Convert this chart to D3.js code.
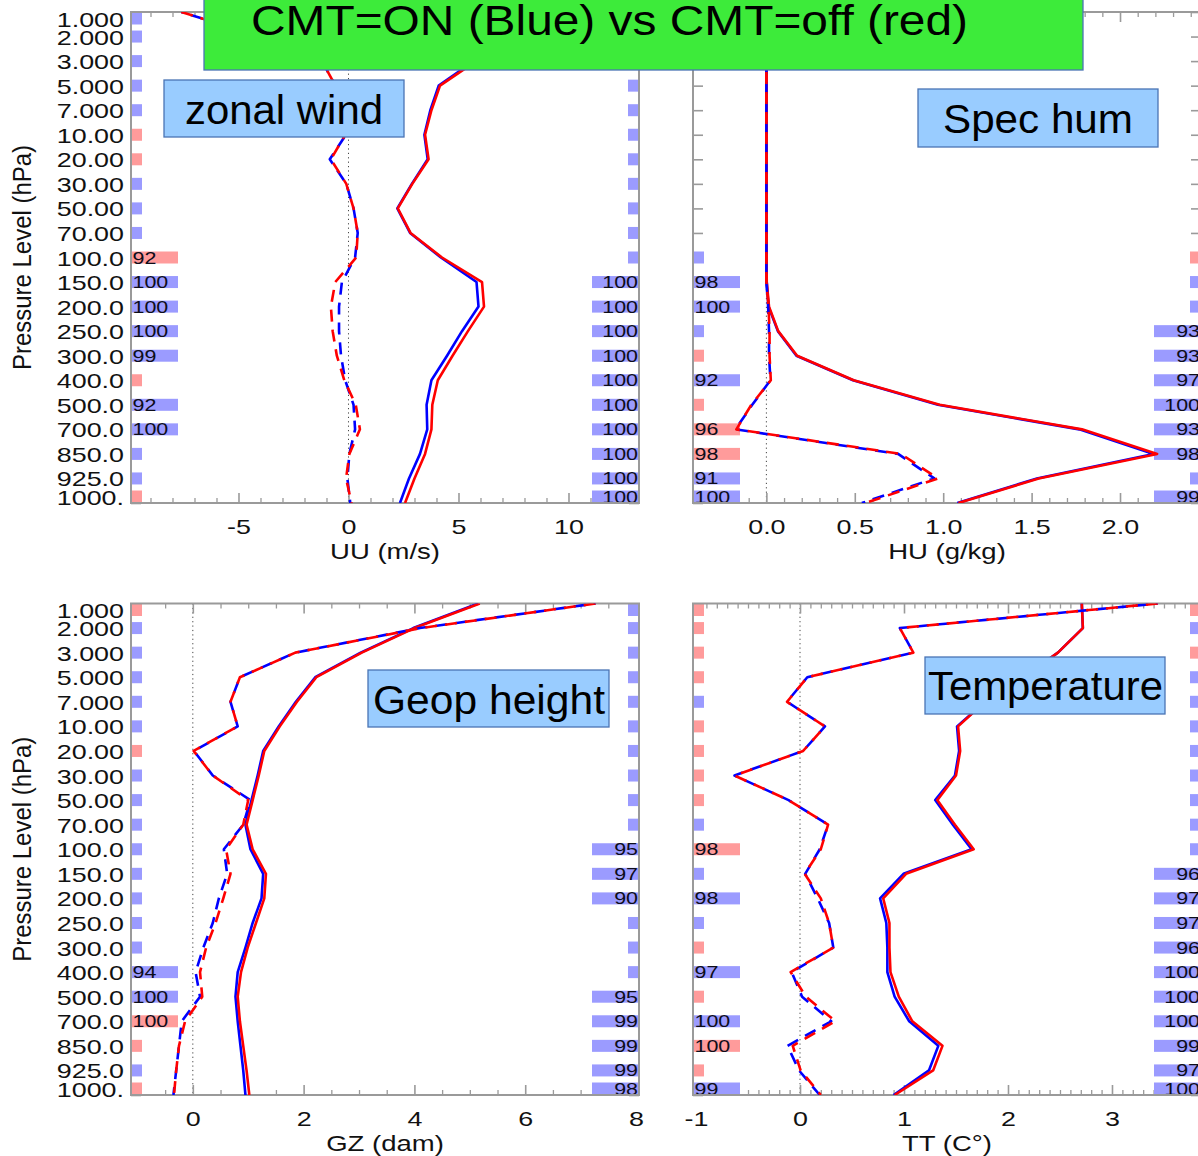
<!DOCTYPE html>
<html>
<head>
<meta charset="utf-8">
<script src="https://cdn.jsdelivr.net/npm/d3@7"></script>
<style>
  body { margin: 0; background: #ffffff; }
  svg { display: block; font-family: "Liberation Sans", Arial, sans-serif; }
</style>
</head>
<body>
<svg id="chart" width="1198" height="1156"></svg>
<script>
// ---- vertical coordinate: pressure levels (hPa) and their printed labels ----
const levels = [1, 2, 3, 5, 7, 10, 20, 30, 50, 70, 100, 150, 200, 250, 300, 400, 500, 700, 850, 925, 1000];
const levelLabels = ["1.000", "2.000", "3.000", "5.000", "7.000", "10.00", "20.00", "30.00", "50.00", "70.00",
  "100.0", "150.0", "200.0", "250.0", "300.0", "400.0", "500.0", "700.0", "850.0", "925.0", "1000."];

// ---- zonal wind UU (m/s) ----
const uuTicks = [-5, 0, 5, 10];
const uuStdOn   = [9.0, 7.4, 5.7, 4.10, 3.72, 3.45, 3.60, 2.88, 2.22, 2.80, 4.20, 5.82, 5.91, 5.16, 4.48, 3.77, 3.55, 3.58, 3.25, 2.75, 2.34];
const uuStdOff  = [9.1, 7.5, 5.8, 4.16, 3.77, 3.48, 3.64, 2.90, 2.24, 2.82, 4.25, 6.07, 6.16, 5.43, 4.73, 4.06, 3.81, 3.77, 3.48, 3.00, 2.57];
const uuBiasOn  = [-7.6, -4.0, -1.2, -0.6, -0.3, -0.12, -0.85, -0.10, 0.23, 0.42, 0.30, -0.30, -0.43, -0.43, -0.34, -0.15, 0.23, 0.30, 0.04, -0.05, 0.08];
const uuBiasOff = [-7.6, -4.0, -1.2, -0.6, -0.3, -0.15, -0.80, -0.10, 0.23, 0.42, 0.35, -0.60, -0.80, -0.72, -0.53, -0.19, 0.33, 0.52, 0.04, -0.11, 0.14];
const uuLeft  = ["B", "B", "B", "B", "B", "R", "R", "B", "B", "B", "R92", "B100", "B100", "B100", "B99", "R", "B92", "B100", "B", "B", "R"];
const uuRight = ["B", "B", "B", "B", "B", "B", "B", "B", "B", "B", "B", "B100", "B100", "B100", "B100", "B100", "B100", "B100", "B100", "B100", "B100"];

// ---- specific humidity HU (g/kg) ----
const huTicks = [0, 0.5, 1.0, 1.5, 2.0];
const huStdOn   = [0.001, 0.001, 0.001, 0.001, 0.001, 0.001, 0.001, 0.001, 0.001, 0.001, 0.001, 0.002, 0.012, 0.065, 0.170, 0.490, 0.970, 1.770, 2.190, 1.530, 1.080];
const huStdOff  = [0.001, 0.001, 0.001, 0.001, 0.001, 0.001, 0.001, 0.001, 0.001, 0.001, 0.001, 0.002, 0.015, 0.067, 0.174, 0.494, 0.980, 1.785, 2.210, 1.540, 1.086];
const huBiasOn  = [0.0, 0.0, 0.0, 0.0, 0.0, 0.0, 0.0, 0.0, 0.0, 0.0, 0.0, 0.0, 0.010, 0.015, 0.015, 0.023, -0.080, -0.175, 0.745, 0.950, 0.540];
const huBiasOff = [0.0, 0.0, 0.0, 0.0, 0.0, 0.0, 0.0, 0.0, 0.0, 0.0, 0.0, 0.0, 0.012, 0.018, 0.018, 0.025, -0.085, -0.170, 0.760, 0.970, 0.560];
const huLeft  = ["", "", "", "", "", "", "", "", "", "", "B", "B98", "B100", "B", "R", "B92", "R", "R96", "R98", "B91", "B100"];
const huRight = ["", "", "", "", "", "", "", "", "", "", "R", "B", "B", "B93", "B93", "B97", "B100", "B93", "B98", "B", "B99"];

// ---- geopotential height GZ (dam) ----
const gzTicks = [0, 2, 4, 6, 8];
const gzStdOn   = [5.15, 3.98, 3.03, 2.21, 1.86, 1.55, 1.27, 1.17, 1.06, 0.95, 1.04, 1.27, 1.24, 1.08, 0.95, 0.81, 0.77, 0.81, 0.86, 0.91, 0.95];
const gzStdOff  = [5.18, 4.00, 3.05, 2.23, 1.88, 1.57, 1.29, 1.19, 1.08, 0.97, 1.08, 1.32, 1.29, 1.14, 0.99, 0.87, 0.81, 0.85, 0.91, 0.97, 1.02];
const gzBiasOn  = [7.27, 4.10, 1.85, 0.85, 0.68, 0.81, 0.02, 0.36, 1.04, 0.91, 0.56, 0.62, 0.47, 0.36, 0.19, 0.05, 0.13, -0.20, -0.25, -0.30, -0.35];
const gzBiasOff = [7.27, 4.12, 1.85, 0.85, 0.68, 0.81, 0.015, 0.36, 1.00, 0.91, 0.60, 0.68, 0.55, 0.41, 0.24, 0.13, 0.17, -0.14, -0.25, -0.30, -0.34];
const gzLeft  = ["R", "B", "B", "B", "B", "B", "R", "B", "B", "B", "B", "B", "B", "B", "B", "B94", "B100", "R100", "R", "B", "R"];
const gzRight = ["B", "B", "B", "B", "B", "B", "B", "B", "B", "B", "B95", "B97", "B90", "B", "B", "B", "B95", "B99", "B99", "B99", "B98"];

// ---- temperature TT (C) ----
const ttTicks = [-1, 0, 1, 2, 3];
const ttStdOn   = [2.71, 2.72, 2.48, 2.15, 1.78, 1.51, 1.53, 1.49, 1.30, 1.47, 1.65, 0.995, 0.77, 0.83, 0.84, 0.84, 0.91, 1.05, 1.33, 1.24, 0.90];
const ttStdOff  = [2.71, 2.72, 2.48, 2.15, 1.78, 1.52, 1.54, 1.50, 1.32, 1.49, 1.67, 1.02, 0.80, 0.86, 0.86, 0.87, 0.95, 1.08, 1.37, 1.28, 0.91];
const ttBiasOn  = [3.44, 0.96, 1.09, 0.07, -0.125, 0.24, 0.03, -0.63, -0.11, 0.27, 0.19, 0.05, 0.17, 0.28, 0.32, -0.08, 0.02, 0.30, -0.12, -0.01, 0.19];
const ttBiasOff = [3.44, 0.96, 1.09, 0.07, -0.125, 0.24, 0.03, -0.63, -0.11, 0.27, 0.20, 0.045, 0.20, 0.28, 0.32, -0.09, 0.056, 0.34, -0.07, 0.006, 0.20];
const ttLeft  = ["R", "R", "R", "R", "B", "R", "R", "R", "R", "B", "R98", "B", "B98", "B", "R", "B97", "R", "B100", "R100", "R", "B99"];
const ttRight = ["R", "B", "R", "B", "B", "B", "B", "B", "B", "B", "B", "B96", "B97", "B97", "B96", "B100", "B100", "B100", "B99", "B97", "B100"];

// ---- colours ----
const BLUE = "#0000ff", RED = "#ff0000";
const BAR_BLUE = "#9b9bff", BAR_RED = "#ff9b9b";
const FRAME = "#9a9a9a", TEXT = "#111111";
const SX = 1.28;   // horizontal stretch of the plot lettering

const panels = [
  { x0: 131, x1: 639, y0: 12,    y1: 503,  domain: [-9.886, 13.205], ticks: uuTicks, minor: 1,   fmt: d => String(d),
    title: "UU (m/s)", yTitle: true, stdOn: uuStdOn, stdOff: uuStdOff, biasOn: uuBiasOn, biasOff: uuBiasOff, left: uuLeft, right: uuRight },
  { x0: 693, x1: 1201, y0: 12,   y1: 503,  domain: [-0.415, 2.458], ticks: huTicks, minor: 0.1, fmt: d => d.toFixed(1),
    title: "HU (g/kg)", yTitle: false, stdOn: huStdOn, stdOff: huStdOff, biasOn: huBiasOn, biasOff: huBiasOff, left: huLeft, right: huRight },
  { x0: 131, x1: 639, y0: 603.5, y1: 1095, domain: [-1.116, 8.054], ticks: gzTicks, minor: 0.5, fmt: d => String(d),
    title: "GZ (dam)", yTitle: true, stdOn: gzStdOn, stdOff: gzStdOff, biasOn: gzBiasOn, biasOff: gzBiasOff, left: gzLeft, right: gzRight },
  { x0: 693, x1: 1201, y0: 603.5, y1: 1095, domain: [-1.029, 3.856], ticks: ttTicks, minor: 0.1, fmt: d => String(d),
    title: "TT (C\u00B0)", yTitle: false, stdOn: ttStdOn, stdOff: ttStdOff, biasOn: ttBiasOn, biasOff: ttBiasOff, left: ttLeft, right: ttRight }
];

const svg = d3.select("#chart");
const defs = svg.append("defs");

function minorValues(domain, step) {
  const n0 = Math.ceil(domain[0] / step - 1e-9), n1 = Math.floor(domain[1] / step + 1e-9);
  return d3.range(n0, n1 + 1).map(k => +(k * step).toFixed(6));
}

function styleTicks(g, width) {
  g.select(".domain").remove();
  g.selectAll(".tick line").attr("stroke", FRAME).attr("stroke-width", width);
}

panels.forEach((p, pi) => {
  const x = d3.scaleLinear().domain(p.domain).range([p.x0, p.x1]);
  const y = d3.scalePoint().domain(levels).range([p.y0, p.y1]);
  const last = levels.length - 1;
  // rows at the two ends are nudged inward so they stay inside the frame
  const rowY = (l, i) => y(l) + (i === 0 ? 6.5 : i === last ? -6.5 : 0);

  const g = svg.append("g");
  const clipId = "plot-clip-" + pi;
  defs.append("clipPath").attr("id", clipId).append("rect")
    .attr("x", p.x0).attr("y", p.y0).attr("width", p.x1 - p.x0).attr("height", p.y1 - p.y0);

  // zero reference
  g.append("line")
    .attr("x1", x(0)).attr("x2", x(0)).attr("y1", p.y0).attr("y2", p.y1)
    .attr("stroke", "#444").attr("stroke-width", 1).attr("stroke-dasharray", "1.2 3.2");

  // x axes: minor + major ticks on bottom and top, labels on bottom
  const minors = minorValues(p.domain, p.minor).filter(v => !p.ticks.some(t => Math.abs(t - v) < 1e-6));
  g.append("g").attr("transform", `translate(0,${p.y1})`)
    .call(d3.axisBottom(x).tickValues(minors).tickSize(-5).tickSizeOuter(0).tickFormat(""))
    .call(s => styleTicks(s, 1.3));
  g.append("g").attr("transform", `translate(0,${p.y0})`)
    .call(d3.axisTop(x).tickValues(minors).tickSize(-5).tickSizeOuter(0).tickFormat(""))
    .call(s => styleTicks(s, 1.3));
  g.append("g").attr("transform", `translate(0,${p.y0})`)
    .call(d3.axisTop(x).tickValues(p.ticks).tickSize(-10).tickSizeOuter(0).tickFormat(""))
    .call(s => styleTicks(s, 1.6));
  const xb = g.append("g").attr("transform", `translate(0,${p.y1})`)
    .call(d3.axisBottom(x).tickValues(p.ticks).tickSize(-10).tickSizeOuter(0).tickFormat(p.fmt))
    .call(s => styleTicks(s, 1.6));
  xb.selectAll(".tick text")
    .attr("y", 0).attr("dy", null)
    .attr("transform", `translate(0,31) scale(${SX},1)`)
    .attr("fill", TEXT).attr("font-size", 21).attr("font-family", "Liberation Sans, Arial, sans-serif");

  // y axes: a tick at every level on both sides
  const yl = g.append("g").attr("transform", `translate(${p.x0},0)`)
    .call(d3.axisLeft(y).tickSize(-10).tickSizeOuter(0).tickFormat((d, i) => p.yTitle ? levelLabels[i] : ""))
    .call(s => styleTicks(s, 1.6));
  yl.selectAll(".tick text")
    .attr("x", 0).attr("dy", null)
    .attr("transform", (d, i) => `translate(-7,${rowY(d, i) - y(d) + 7.5}) scale(${SX},1)`)
    .attr("fill", TEXT).attr("font-size", 21).attr("font-family", "Liberation Sans, Arial, sans-serif");
  g.append("g").attr("transform", `translate(${p.x1},0)`)
    .call(d3.axisRight(y).tickSize(-10).tickSizeOuter(0).tickFormat(""))
    .call(s => styleTicks(s, 1.6));

  // data-count bars along both side axes
  const barData = side => levels.map((l, i) => {
    const code = side === "left" ? p.left[i] : p.right[i];
    if (!code) return null;
    return { l, i, side, color: code[0] === "B" ? BAR_BLUE : BAR_RED, count: code.slice(1) };
  }).filter(Boolean);
  const bars = barData("left").concat(barData("right"));
  const barW = b => (b.count ? 46 : 10);
  g.selectAll("rect.count").data(bars).join("rect")
    .attr("class", "count")
    .attr("x", b => b.side === "left" ? p.x0 + 1 : p.x1 - 1 - barW(b))
    .attr("y", b => rowY(b.l, b.i) - 6)
    .attr("width", barW).attr("height", 12)
    .attr("fill", b => b.color);
  g.selectAll("text.count").data(bars.filter(b => b.count)).join("text")
    .attr("class", "count")
    .attr("transform", b => `translate(${b.side === "left" ? p.x0 + 1.5 : p.x1 - 1},${rowY(b.l, b.i) + 6}) scale(1.3,1)`)
    .attr("text-anchor", b => b.side === "left" ? "start" : "end")
    .attr("font-size", 16.5).attr("fill", "#0d0d1a")
    .text(b => b.count);

  // frame
  g.append("rect")
    .attr("x", p.x0).attr("y", p.y0).attr("width", p.x1 - p.x0).attr("height", p.y1 - p.y0)
    .attr("fill", "none").attr("stroke", FRAME).attr("stroke-width", 2);

  // profiles: solid = std dev, dashed = mean
  const line = d3.line().x(d => x(d.v)).y(d => y(d.l));
  const series = arr => levels.map((l, i) => ({ l, v: arr[i] }));
  const lines = g.append("g").attr("clip-path", `url(#${clipId})`).attr("fill", "none")
    .attr("stroke-width", 2.6).attr("stroke-linejoin", "round");
  lines.append("path").attr("d", line(series(p.stdOn))).attr("stroke", BLUE);
  lines.append("path").attr("d", line(series(p.stdOff))).attr("stroke", RED);
  lines.append("path").attr("d", line(series(p.biasOn))).attr("stroke", BLUE)
    .attr("stroke-dasharray", "12 8").attr("stroke-dashoffset", 10);
  lines.append("path").attr("d", line(series(p.biasOff))).attr("stroke", RED)
    .attr("stroke-dasharray", "12 8");

  // axis titles
  svg.append("text")
    .attr("transform", `translate(${(p.x0 + p.x1) / 2},${p.y1 + 56}) scale(1.25,1)`)
    .attr("text-anchor", "middle").attr("font-size", 22).attr("fill", TEXT)
    .text(p.title);
  if (p.yTitle) {
    svg.append("text")
      .attr("transform", `translate(31,${(p.y0 + p.y1) / 2}) scale(1.1,1) rotate(-90)`)
      .attr("text-anchor", "middle").attr("font-size", 23).attr("fill", TEXT)
      .attr("textLength", 225).attr("lengthAdjust", "spacingAndGlyphs")
      .text("Pressure Level (hPa)");
  }
});

// ---- annotation boxes ----
function labelBox(x, y, w, h, fill, text, tx, baseline, size, len) {
  const b = svg.append("g");
  b.append("rect").attr("x", x).attr("y", y).attr("width", w).attr("height", h)
    .attr("fill", fill).attr("stroke", "#4a74b4").attr("stroke-width", 1.3);
  b.append("text").attr("x", tx).attr("y", baseline)
    .attr("font-size", size).attr("fill", "#000")
    .attr("textLength", len).attr("lengthAdjust", "spacingAndGlyphs")
    .text(text);
}
labelBox(204, -2, 879, 72, "#3deb3a", "CMT=ON (Blue) vs CMT=off (red)", 251, 35, 43, 717);
labelBox(164, 80, 240, 57, "#99ccff", "zonal wind", 185, 124, 41, 198);
labelBox(918, 89, 240, 58, "#99ccff", "Spec hum", 943, 133, 41, 190);
labelBox(368, 670, 241, 57, "#99ccff", "Geop height", 373, 714, 41, 232);
labelBox(925, 657, 240, 57, "#99ccff", "Temperature", 928, 700, 41, 235);
</script>
</body>
</html>
